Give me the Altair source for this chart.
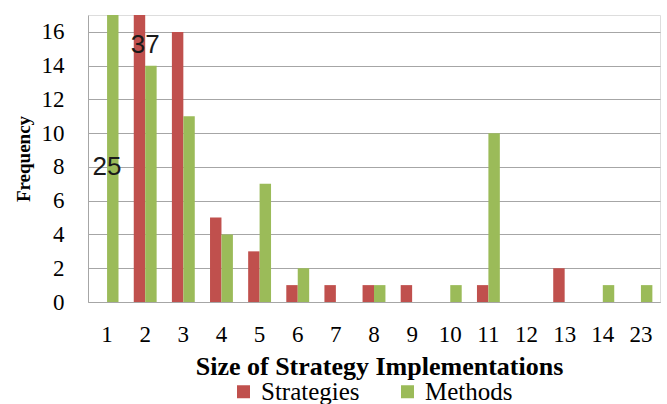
import altair as alt
import pandas as pd

categories = ["1", "2", "3", "4", "5", "6", "7", "8", "9", "10", "11", "12", "13", "14", "23"]
strategies = [0, 37, 16, 5, 3, 1, 1, 1, 1, 0, 1, 0, 2, 0, 0]
methods = [25, 14, 11, 4, 7, 2, 0, 1, 0, 1, 10, 0, 0, 1, 1]
series_names = ["Strategies", "Methods"]
series_colors = ["#C0504D", "#9BBB59"]
y_ticks = [0, 2, 4, 6, 8, 10, 12, 14, 16]

label_cats = ["1", "2"]
label_texts = ["25", "37"]
label_y = [8, 15.2]

rows = []
for c, s, m in zip(categories, strategies, methods):
    if s > 0:
        rows.append({"size": c, "series": "Strategies", "freq": s})
    if m > 0:
        rows.append({"size": c, "series": "Methods", "freq": m})
df = pd.DataFrame(rows)
labels = pd.DataFrame({"size": label_cats, "text": label_texts, "freq": label_y})

serif = "Times New Roman, Liberation Serif, serif"
grey = "#A6A6A6"

xscale = alt.Scale(domain=categories, paddingInner=0.4, paddingOuter=0.2)
yscale = alt.Scale(domain=[0, 17], nice=False)

x_axis = alt.Axis(title="Size of Strategy Implementations", labelAngle=0,
                  ticks=False, domainColor=grey, labelFont=serif, labelFontSize=23,
                  labelColor="#000", labelPadding=21, titleFont=serif,
                  titleFontSize=26, titleFontWeight="bold", titleColor="#000",
                  titlePadding=7, titleX=291)
y_axis = alt.Axis(title="Frequency", values=y_ticks, ticks=False,
                  labelOverlap=False, labelFlush=False,
                  domainColor=grey, gridColor=grey, labelFont=serif,
                  labelFontSize=23, labelColor="#000", labelPadding=24,
                  titleFont=serif, titleFontSize=19, titleFontWeight="bold",
                  titleColor="#000", titlePadding=8)

bars = alt.Chart(df).mark_bar(clip=True).encode(
    x=alt.X("size:N", scale=xscale, sort=categories, axis=x_axis),
    xOffset=alt.XOffset("series:N", sort=series_names,
                        scale=alt.Scale(domain=series_names, paddingInner=0, paddingOuter=0)),
    y=alt.Y("freq:Q", scale=yscale, axis=y_axis),
    color=alt.Color("series:N", sort=series_names,
                    scale=alt.Scale(domain=series_names, range=series_colors),
                    legend=alt.Legend(title=None, orient="none", direction="horizontal",
                                      legendX=143, legendY=364, symbolType="square",
                                      symbolSize=169, symbolStrokeWidth=0,
                                      labelFont=serif, labelFontSize=25, labelColor="#000",
                                      labelOffset=5, columnPadding=35)),
)

text = alt.Chart(labels).mark_text(font="Liberation Sans", fontSize=26, color="#1a1a1a",
                                   baseline="middle", align="center").encode(
    x=alt.X("size:N", scale=xscale, sort=categories, axis=x_axis),
    y=alt.Y("freq:Q", scale=yscale, axis=y_axis),
    text="text:N",
)

chart = alt.layer(bars, text).properties(
    width=572, height=287,
    autosize=alt.AutoSizeParams(type="none"),
    padding={"left": 88, "top": 15, "right": 7, "bottom": 102},
).configure_view(stroke=None).configure(background="white", font=serif).configure_legend(
    labelFont=serif, labelFontSize=25, labelColor="#000"
).configure_axis(labelFont=serif, labelColor="#000").configure_axisY(
    values=y_ticks, labelOverlap=False, labelFont=serif, labelFontSize=23
).configure_axisQuantitative(labelFont=serif, labelFontSize=23)

chart.save("out.html", embed_options={"renderer": "svg", "actions": False})
